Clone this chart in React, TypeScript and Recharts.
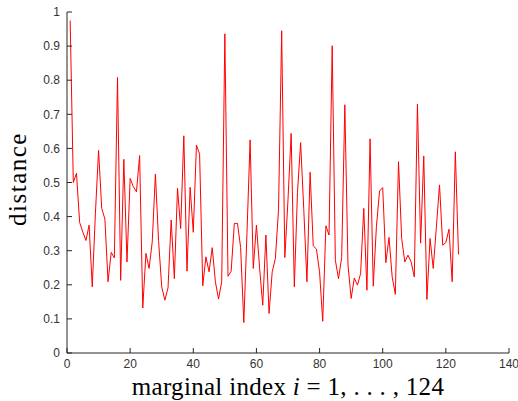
import { LineChart, Line, XAxis, YAxis } from 'recharts';

// distance for each marginal index i = 1..124
const distances = [
  0.975, 0.5, 0.527, 0.383, 0.355, 0.33, 0.375, 0.194, 0.41, 0.594,
  0.424, 0.393, 0.209, 0.295, 0.279, 0.808, 0.213, 0.568, 0.267, 0.512,
  0.488, 0.473, 0.579, 0.132, 0.292, 0.248, 0.326, 0.525, 0.33, 0.194,
  0.155, 0.191, 0.39, 0.218, 0.483, 0.365, 0.637, 0.24, 0.486, 0.354,
  0.61, 0.583, 0.197, 0.282, 0.238, 0.309, 0.209, 0.158, 0.209, 0.936,
  0.225, 0.24, 0.38, 0.38, 0.309, 0.089, 0.35, 0.625, 0.248, 0.375,
  0.25, 0.14, 0.346, 0.116, 0.238, 0.277, 0.42, 0.945, 0.28, 0.45,
  0.644, 0.194, 0.47, 0.617, 0.42, 0.209, 0.53, 0.314, 0.305, 0.238,
  0.093, 0.373, 0.346, 0.901, 0.272, 0.218, 0.28, 0.728, 0.258, 0.16,
  0.22, 0.199, 0.233, 0.424, 0.184, 0.628, 0.196, 0.37, 0.475, 0.485,
  0.265, 0.339, 0.223, 0.172, 0.561, 0.336, 0.267, 0.287, 0.267, 0.223,
  0.73, 0.322, 0.578, 0.157, 0.336, 0.248, 0.37, 0.493, 0.316, 0.324,
  0.363, 0.209, 0.59, 0.289,
];

const xTicks = [0, 20, 40, 60, 80, 100, 120, 140];
const yTicks = [0, 0.1, 0.2, 0.3, 0.4, 0.5, 0.6, 0.7, 0.8, 0.9, 1];

const data = distances.map((d, k) => ({ i: k + 1, d }));

const AXIS = '#262626';
const tickStyle = { fill: '#333', fontSize: 12, fontFamily: '"Liberation Sans", Arial, sans-serif' };
const serif = '"Liberation Serif", serif';

export default function App() {
  return (
    <div style={{ position: 'absolute', left: 0, top: 0, width: 518, height: 401, background: '#fff' }}>
      <LineChart width={518} height={401} data={data} margin={{ top: 12, right: 9, left: 0, bottom: 0 }}>
        <XAxis
          dataKey="i"
          type="number"
          domain={[0, 140]}
          ticks={xTicks}
          height={48}
          tickSize={-5}
          tickMargin={11}
          stroke={AXIS}
          tick={tickStyle}
        />
        <XAxis
          xAxisId="top"
          orientation="top"
          type="number"
          domain={[0, 140]}
          ticks={xTicks}
          height={0}
          tickSize={-5}
          tickFormatter={() => ''}
          stroke="#555"
        />
        <YAxis
          type="number"
          domain={[0, 1]}
          ticks={yTicks}
          width={67}
          tickSize={-5}
          tickMargin={12}
          stroke={AXIS}
          tick={tickStyle}
        />
        <YAxis
          yAxisId="right"
          orientation="right"
          type="number"
          domain={[0, 1]}
          ticks={yTicks}
          width={0}
          tickSize={-5}
          tickFormatter={() => ''}
          stroke="#555"
        />
        <Line
          dataKey="d"
          stroke="#ff0000"
          strokeWidth={1}
          dot={false}
          isAnimationActive={false}
        />
      </LineChart>
      <svg width={518} height={401} style={{ position: 'absolute', left: 0, top: 0, pointerEvents: 'none' }}>
        <text x={288} y={395} textAnchor="middle" fontFamily={serif} fill="#000" style={{ fontSize: 25, letterSpacing: '0.3px' }}>
          marginal index <tspan fontStyle="italic">i</tspan> = 1, . . . , 124
        </text>
        <text
          x={0}
          y={0}
          transform="translate(26,179) rotate(-90)"
          textAnchor="middle"
          fontFamily={serif}
          fill="#000"
          style={{ fontSize: 25, letterSpacing: '1.5px' }}
        >
          distance
        </text>
      </svg>
    </div>
  );
}
